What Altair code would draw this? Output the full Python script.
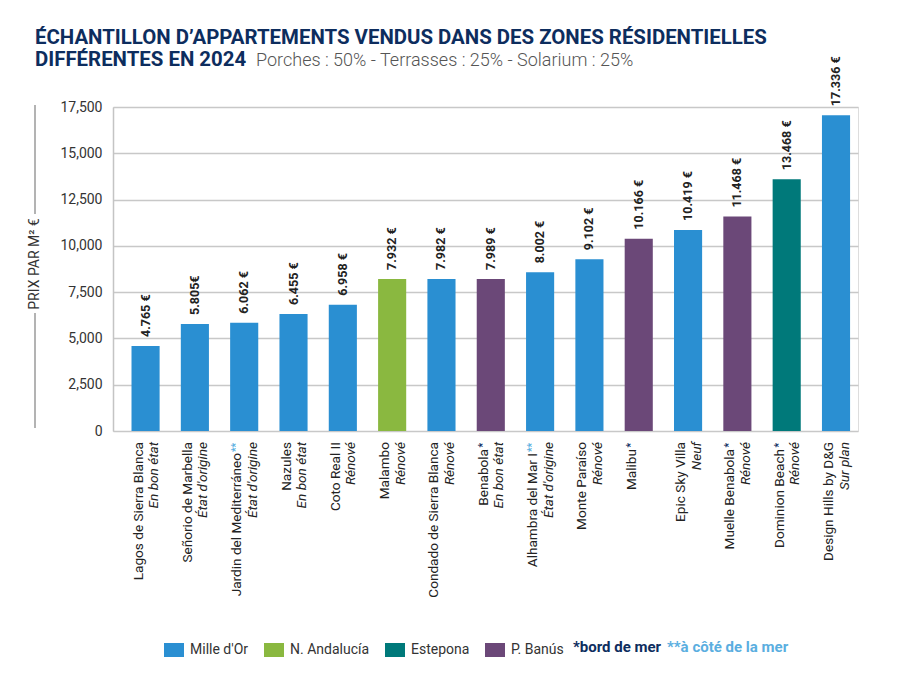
import altair as alt
import pandas as pd

names = ["Lagos de Sierra Blanca", "Señorio de Marbella", "Jardin del Mediterráneo", "Nazules",
         "Coto Real II", "Malambo", "Condado de Sierra Blanca", "Benabola", "Alhambra del Mar I",
         "Monte Paraíso", "Malibu", "Epic Sky Villa", "Muelle Benabola", "Dominion Beach",
         "Design Hills by D&G"]
marks = ["", "", "**", "", "", "", "", "*", "**", "", "*", "", "*", "*", ""]
conditions = ["En bon état", "État d'origine", "État d'origine", "En bon état", "Rénové", "Rénové",
              "Rénové", "En bon état", "État d'origine", "Rénové", "", "Neuf", "Rénové", "Rénové",
              "Sur plan"]
zones = ["Mille d'Or", "Mille d'Or", "Mille d'Or", "Mille d'Or", "Mille d'Or", "N. Andalucía",
         "Mille d'Or", "P. Banús", "Mille d'Or", "Mille d'Or", "P. Banús", "Mille d'Or",
         "P. Banús", "Estepona", "Mille d'Or"]
price_labels = ["4.765 €", "5.805€", "6.062 €", "6.455 €", "6.958 €", "7.932 €", "7.982 €",
                "7.989 €", "8.002 €", "9.102 €", "10.166 €", "10.419 €", "11.468 €", "13.468 €",
                "17.336 €"]
# bar heights as drawn in the picture (€/m²)
bar_heights = [4590, 5780, 5850, 6320, 6820, 8210, 8210, 8210, 8570, 9280, 10390, 10860, 11580,
               13600, 17060]

zone_order = ["Mille d'Or", "N. Andalucía", "Estepona", "P. Banús"]
zone_colors = ["#2a8fd2", "#8ab840", "#00797a", "#6b4878"]
y_ticks = [0, 2500, 5000, 7500, 10000, 12500, 15000, 17500]

title_line1 = "ÉCHANTILLON D’APPARTEMENTS VENDUS DANS DES ZONES RÉSIDENTIELLES"
title_line2 = "DIFFÉRENTES EN 2024"
subtitle = "Porches : 50% - Terrasses : 25% - Solarium : 25%"
y_title = "PRIX PAR M² €"
note1 = "*bord de mer"
note2 = "**à côté de la mer"

NAVY = "#0d2d5e"
LIGHTBLUE = "#5aaee0"
FONT = "Roboto"

df = pd.DataFrame({"name": names, "mark": marks, "cond": conditions, "zone": zones,
                   "label": price_labels, "value": bar_heights})

W, H = 745, 324

xenc = alt.X("name:N", sort=names, axis=None,
             scale=alt.Scale(paddingInner=0.43, paddingOuter=0.268, align=0.70))

base = alt.Chart(df)

bars = base.mark_bar().encode(
    x=xenc,
    y=alt.Y("value:Q", scale=alt.Scale(domain=[0, 17500], nice=False),
            axis=alt.Axis(values=y_ticks, format=",d", title=None, ticks=False,
                          grid=True, gridColor="#c8c8c8", gridWidth=1.5,
                          domainColor="#c4c4c4", domainWidth=1.5,
                          labelFontSize=14, labelColor="#333333", labelPadding=11,
                          labelFont=FONT)),
    color=alt.Color("zone:N", scale=alt.Scale(domain=zone_order, range=zone_colors),
                    legend=alt.Legend(title=None, orient="none", legendX=51, legendY=533,
                                      direction="horizontal",
                                      symbolType="M-1,-0.7H1V0.7H-1Z", symbolSize=400,
                                      symbolStrokeWidth=0, symbolOpacity=1,
                                      labelFontSize=14, labelColor="#333333", labelFont=FONT,
                                      labelOffset=6, columnPadding=15, padding=0)),
)

values = base.mark_text(angle=270, align="left", baseline="middle", dx=9, fontSize=12.5,
                        fontWeight="bold", color="#222222", font=FONT).encode(
    x=xenc, y=alt.Y("value:Q"), text="label:N")

lab_y = alt.value(H + 11)
LABEL_SIZE = 13.6


def name_layer(flt, dx):
    return base.transform_filter(flt).mark_text(
        angle=270, align="right", baseline="middle", dy=-7, dx=dx, fontSize=LABEL_SIZE,
        color="#222222", font=FONT).encode(x=xenc, y=lab_y, text="name:N")


names_plain = name_layer(alt.datum.mark == "", 0)
names_star1 = name_layer(alt.datum.mark == "*", -7)
names_star2 = name_layer(alt.datum.mark == "**", -11)

star1 = base.transform_filter(alt.datum.mark == "*").mark_text(
    angle=270, align="right", baseline="middle", dy=-8, dx=-1, fontSize=10, fontWeight="bold",
    color=NAVY, font=FONT).encode(x=xenc, y=lab_y, text="mark:N")
star2 = base.transform_filter(alt.datum.mark == "**").mark_text(
    angle=270, align="right", baseline="middle", dy=-8, dx=-1, fontSize=10, fontWeight="bold",
    color=LIGHTBLUE, font=FONT).encode(x=xenc, y=lab_y, text="mark:N")
conds = base.transform_filter(alt.datum.cond != "").mark_text(
    angle=270, align="right", baseline="middle", dy=8.5, fontSize=LABEL_SIZE, fontStyle="italic",
    color="#222222", font=FONT).encode(x=xenc, y=lab_y, text="cond:N")


def single(text, **kw):
    enc = {k: v for k, v in kw.items() if k in ("x", "y", "x2", "y2")}
    props = {k: v for k, v in kw.items() if k not in ("x", "y", "x2", "y2")}
    return alt.Chart(pd.DataFrame({"t": [text]})).mark_text(font=FONT, **props).encode(
        text="t:N", **enc)


ytitle = single(y_title, x=alt.value(-78), y=alt.value(157), angle=270, align="center",
                baseline="middle", fontSize=14, color="#333333")
rule_df = pd.DataFrame({"t": [""]})
rule_top = alt.Chart(rule_df).mark_rule(color="#9a9a9a", strokeWidth=1.5).encode(
    x=alt.value(-78), y=alt.value(-2), y2=alt.value(107))
rule_bot = alt.Chart(rule_df).mark_rule(color="#9a9a9a", strokeWidth=1.5).encode(
    x=alt.value(-78), y=alt.value(206), y2=alt.value(321))

t1 = single(title_line1, x=alt.value(-78), y=alt.value(-63), align="left",
            baseline="alphabetic", fontSize=20.4, fontWeight="bold", color=NAVY)
t2 = single(title_line2, x=alt.value(-78), y=alt.value(-41), align="left",
            baseline="alphabetic", fontSize=20.4, fontWeight="bold", color=NAVY)
t3 = single(subtitle, x=alt.value(143), y=alt.value(-41), align="left",
            baseline="alphabetic", fontSize=18, fontWeight=300, color="#555555")

n1 = single(note1, x=alt.value(460), y=alt.value(540), align="left", baseline="middle",
            fontSize=15, fontWeight="bold", color=NAVY)
n2 = single(note2, x=alt.value(554), y=alt.value(540), align="left", baseline="middle",
            fontSize=15, fontWeight="bold", color=LIGHTBLUE)

chart = alt.layer(
    bars, values, names_plain, names_star1, names_star2, star1, star2, conds,
    ytitle, rule_top, rule_bot, t1, t2, t3, n1, n2
).properties(
    width=W, height=H,
    autosize=alt.AutoSizeParams(type="none"),
    padding={"left": 105, "top": 99, "right": 30, "bottom": 240},
).configure_view(stroke=None).configure(background="white")

chart.save("out.html", embed_options={"renderer": "svg", "actions": False})
